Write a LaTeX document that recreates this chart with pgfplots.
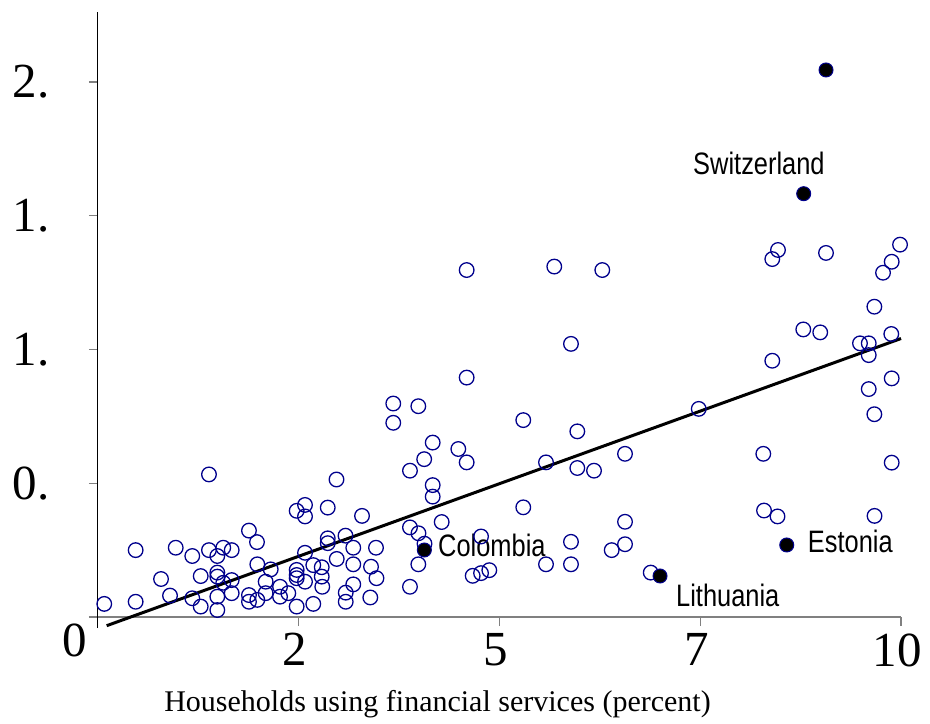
\documentclass[border=0pt]{standalone}
\usepackage{fontspec}
\setmainfont{Liberation Serif}
\newfontfamily\lab[FakeStretch=0.82]{Liberation Sans}
\usepackage{pgfplots}
\pgfplotsset{compat=1.18}
\definecolor{navy}{RGB}{0,0,140}
\definecolor{axgray}{RGB}{128,128,128}
\begin{document}
\begin{tikzpicture}
\begin{axis}[
  x=80.3pt, y=267.5pt,
  xmin=0, xmax=10, ymin=0, ymax=2.2617,
  clip=false,
  axis lines=left,
  x axis line style={-, axgray, line width=1.3pt},
  y axis line style={-, black, line width=1pt, shorten <=-11pt},
  tick align=outside,
  major tick length=9pt,
  xtick={2.5,5,7.5,10},
  xticklabels={2,5,7,10},
  ytick={0,0.5,1,1.5,2},
  yticklabels={,0.,1.,1.,2.},
  every tick/.style={axgray, line width=1.3pt},
  tick label style={font=\fontsize{49}{49}\selectfont},
  xticklabel style={xshift=-4pt, yshift=-4pt},
  yticklabel style={xshift=-36pt},
]
\addplot[only marks, mark=o, mark size=7.3pt, mark options={draw=navy, line width=1.3pt}] coordinates {
(8.468,1.372) (8.397,1.338) (9.066,1.361) (9.988,1.392) (9.884,1.328) (9.776,1.287)
(9.668,1.160) (8.783,1.075) (8.994,1.064) (9.879,1.058) (9.489,1.023) (9.598,1.023)
(9.598,0.979) (8.397,0.958) (9.884,0.892) (9.598,0.852) (9.668,0.758) (7.481,0.778)
(8.285,0.610) (9.884,0.577) (8.294,0.398) (8.462,0.376) (9.670,0.378) (6.883,0.166)
(4.591,1.297) (5.682,1.310) (6.280,1.297) (5.890,1.021) (4.591,0.895) (3.677,0.798)
(3.989,0.788) (3.677,0.726) (5.296,0.736) (5.969,0.694) (4.168,0.652) (4.487,0.628)
(4.062,0.590) (4.591,0.578) (3.885,0.547) (5.579,0.578) (5.969,0.557) (6.177,0.547)
(6.563,0.610) (4.168,0.493) (4.168,0.450) (5.296,0.410) (3.288,0.378) (4.280,0.355)
(3.885,0.335) (3.991,0.313) (4.066,0.274) (4.770,0.301) (3.462,0.259) (3.400,0.188)
(3.468,0.145) (3.989,0.197) (3.885,0.113) (3.391,0.073) (4.666,0.154) (4.770,0.164)
(4.873,0.175) (5.579,0.197) (5.890,0.281) (5.890,0.197) (6.563,0.356) (6.563,0.272)
(6.397,0.250)
(0.078,0.049) (0.469,0.057) (0.469,0.250) (0.785,0.142) (0.968,0.259) (0.897,0.080)
(1.174,0.228) (1.174,0.070) (1.279,0.153) (1.279,0.039) (1.382,0.250) (1.486,0.228)
(1.560,0.259) (1.665,0.250) (1.486,0.166) (1.486,0.151) (1.560,0.128) (1.665,0.138)
(1.486,0.076) (1.486,0.026) (1.665,0.089) (1.880,0.323) (1.980,0.280) (1.984,0.197)
(2.151,0.178) (2.088,0.132) (1.880,0.082) (1.880,0.057) (1.984,0.064) (2.088,0.089)
(2.267,0.113) (2.267,0.076) (2.370,0.089) (2.474,0.039) (2.681,0.049) (2.474,0.397)
(2.578,0.419) (2.578,0.376) (2.861,0.409) (1.382,0.533) (2.970,0.514) (2.474,0.176)
(2.474,0.157) (2.474,0.145) (2.578,0.240) (2.578,0.132) (2.681,0.194) (2.786,0.186)
(2.786,0.151) (2.793,0.113) (2.861,0.294) (2.861,0.276) (3.082,0.304) (2.973,0.217)
(3.179,0.259) (3.179,0.197) (3.179,0.122) (3.085,0.091) (3.085,0.057)
};
\addplot[black, line width=3pt] coordinates {(0.108,-0.0325) (10.0,1.041)};
\addplot[only marks, mark=*, mark size=7pt, mark options={fill=black, draw=navy, line width=1pt}] coordinates {
(9.066,2.0449) (8.788,1.5824) (8.577,0.2692) (6.999,0.1533) (4.064,0.2505)
};
\node[anchor=base west, inner sep=0pt, font=\lab\fontsize{31}{31}\selectfont] at (axis cs:7.410,1.6523) {Switzerland};
\node[anchor=base west, inner sep=0pt, font=\lab\fontsize{31}{31}\selectfont] at (axis cs:4.234,0.2254) {Colombia};
\node[anchor=base west, inner sep=0pt, font=\lab\fontsize{31}{31}\selectfont] at (axis cs:7.198,0.0385) {Lithuania};
\node[anchor=base west, inner sep=0pt, font=\lab\fontsize{31}{31}\selectfont] at (axis cs:8.838,0.2404) {Estonia};
\node[inner sep=0pt, font=\fontsize{49}{49}\selectfont] at (axis cs:-0.2864,-0.086) {0};
\node[anchor=base, inner sep=0pt, font=\fontsize{30}{30}\selectfont] at (axis cs:4.228,-0.354) {Households using financial services (percent)};
\coordinate (bbA) at (axis cs:-1.2204,2.3065);
\coordinate (bbB) at (axis cs:10.361,-0.3963);
\end{axis}
\pgfresetboundingbox
\path[use as bounding box] (bbA) rectangle (bbB);
\end{tikzpicture}
\end{document}
